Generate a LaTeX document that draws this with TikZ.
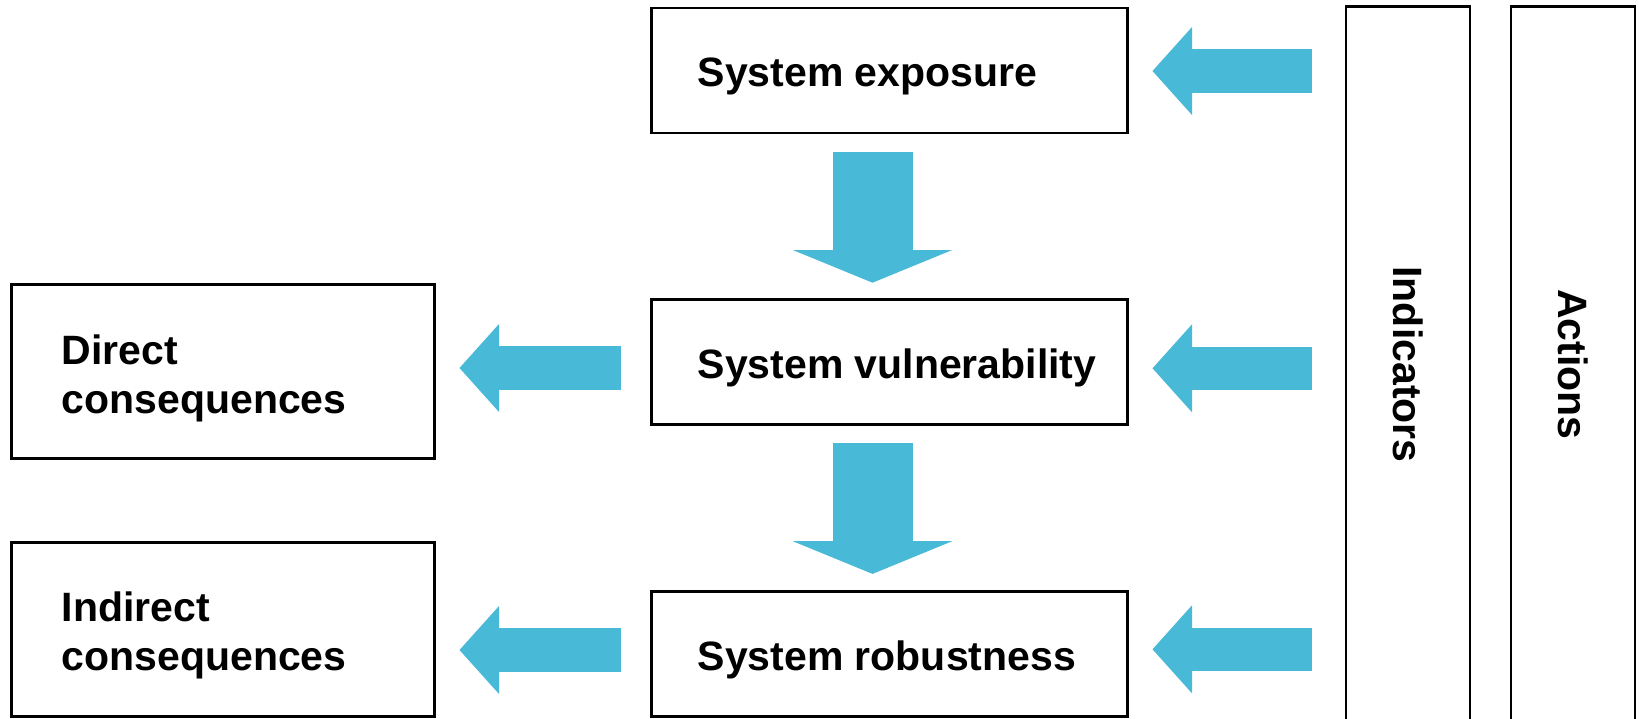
\documentclass[tikz,border=0pt]{standalone}
\usepackage{fontspec}
\setmainfont{Liberation Sans}
\usepackage{xcolor}
\usetikzlibrary{arrows.meta, positioning, calc}
\definecolor{flowblue}{RGB}{72,185,214}

\begin{document}
\begin{tikzpicture}[x=1pt, y=-1pt,
        box/.style={rectangle, draw, line width=2.6pt, inner sep=0pt, outer sep=0pt},
        sysbox/.style={box, minimum width=476pt, minimum height=125pt},
        consbox/.style={box, minimum width=423pt, minimum height=174pt},
        sidebox/.style={box, minimum width=124pt, minimum height=716pt},
        boxtext/.style={inner sep=0pt, font=\fontsize{41}{49}\selectfont\bfseries, text depth=0pt, align=left},
        flow/.style={draw=flowblue, line width=43.4pt, -{Triangle[length=39.5pt, width=88pt, line width=0pt]}},
        downflow/.style={draw=flowblue, line width=80pt, -{Triangle[length=32.7pt, width=159.4pt, line width=0pt]}}
    ]
    \useasboundingbox (0,0) rectangle (1639,718);

    % System chain
    \node[sysbox] (expo) at (889.5, 70.5) {};
    \node[sysbox] (vuln) at (889.5, 362) {};
    \node[sysbox] (robust) at (889.5, 653.7) {};

    % Consequences
    \node[consbox] (direct) at (223, 371.7) {};
    \node[consbox] (indirect) at (223, 629.3) {};

    % Side columns
    \node[sidebox] (ind) at (1408, 364.5) {};
    \node[sidebox] (act) at (1573, 364.5) {};

    % Texts
    \node[boxtext, yshift=-2pt, right=46pt of expo.west] (expotext) {System exposure};
    \node[boxtext, yshift=-2pt, right=46pt of vuln.west] (vulntext) {System vulnerability};
    \node[boxtext, yshift=-2pt, right=46pt of robust.west] (robusttext) {System robustness};
    \node[boxtext, yshift=-2pt, right=50pt of direct.west] (directtext) {Direct\\consequences};
    \node[boxtext, yshift=-2pt, right=50pt of indirect.west] (indirecttext) {Indirect\\consequences};
    \node[boxtext, rotate=-90] (indtext) at (ind) {Indicators};
    \node[boxtext, rotate=-90] (acttext) at (act) {Actions};

    % Flows down the chain
    \draw[downflow] ($(expo.south)+(-17,18.7)$) -- ($(vuln.north)+(-17,-16.8)$);
    \draw[downflow] ($(vuln.south)+(-17,18.7)$) -- ($(robust.north)+(-17,-17.3)$);

    % Flows from indicators
    \draw[flow] ($(ind.west |- expo.east)+(-34,0.5)$) -- ($(expo.east)+(25,0.5)$);
    \draw[flow] ($(ind.west |- vuln.east)+(-34,6.3)$) -- ($(vuln.east)+(25,6.3)$);
    \draw[flow] ($(ind.west |- robust.east)+(-34,-4.4)$) -- ($(robust.east)+(25,-4.4)$);

    % Flows to consequences
    \draw[flow] ($(vuln.west)+(-31,6)$) -- ($(direct.east)+(25,-3.7)$);
    \draw[flow] ($(robust.west)+(-31,-3.7)$) -- ($(indirect.east)+(25,20.7)$);

\end{tikzpicture}
\end{document}
